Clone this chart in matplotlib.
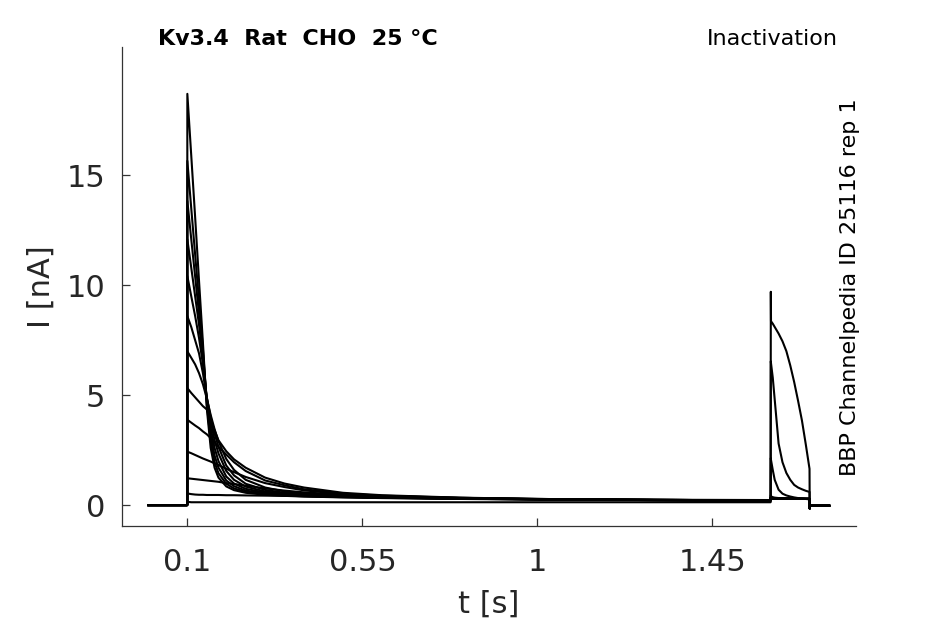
import matplotlib
matplotlib.use("Agg")
import matplotlib.pyplot as plt

# ---- data ----
t_base = [0.0, 0.0995]
base_current = [0.0, 0.0]

t_pre = [0.1, 0.11, 0.12, 0.13, 0.14, 0.15, 0.16, 0.17, 0.18, 0.2, 0.22, 0.25,
         0.3, 0.35, 0.4, 0.5, 0.6, 0.8, 1.0, 1.2, 1.4, 1.5995]
pre_currents = [
    [18.7, 15.9, 13.1, 10.2, 7.4, 4.4, 2.6, 1.7, 1.25, 0.85, 0.68, 0.56, 0.47, 0.42, 0.39, 0.35, 0.32, 0.28, 0.25, 0.23, 0.22, 0.21],
    [15.65, 13.5, 11.4, 9.3, 7.1, 4.6, 2.9, 1.95, 1.45, 0.97, 0.76, 0.6, 0.5, 0.44, 0.4, 0.36, 0.33, 0.29, 0.26, 0.24, 0.22, 0.21],
    [13.83, 12.1, 10.4, 8.7, 6.9, 4.7, 3.2, 2.25, 1.7, 1.12, 0.86, 0.66, 0.53, 0.46, 0.42, 0.37, 0.34, 0.29, 0.26, 0.24, 0.22, 0.21],
    [12.08, 10.8, 9.5, 8.2, 6.7, 4.8, 3.5, 2.6, 2.0, 1.3, 0.98, 0.74, 0.57, 0.49, 0.44, 0.38, 0.34, 0.3, 0.26, 0.24, 0.22, 0.21],
    [10.41, 9.5, 8.6, 7.6, 6.4, 4.9, 3.8, 2.95, 2.35, 1.55, 1.15, 0.84, 0.62, 0.52, 0.46, 0.39, 0.35, 0.3, 0.27, 0.24, 0.22, 0.21],
    [8.59, 8.1, 7.5, 6.9, 6.0, 4.9, 4.0, 3.25, 2.65, 1.8, 1.35, 0.97, 0.69, 0.56, 0.48, 0.4, 0.35, 0.3, 0.27, 0.24, 0.22, 0.21],
    [6.99, 6.7, 6.4, 6.0, 5.5, 4.85, 4.1, 3.45, 2.9, 2.1, 1.6, 1.15, 0.8, 0.62, 0.52, 0.42, 0.36, 0.31, 0.27, 0.24, 0.22, 0.21],
    [5.32, 5.1, 4.9, 4.7, 4.5, 4.35, 3.9, 3.4, 2.95, 2.45, 2.08, 1.7, 1.25, 0.98, 0.8, 0.56, 0.45, 0.34, 0.28, 0.25, 0.23, 0.22],
    [3.88, 3.75, 3.62, 3.5, 3.35, 3.22, 3.05, 2.85, 2.65, 2.3, 1.95, 1.55, 1.12, 0.9, 0.72, 0.52, 0.43, 0.33, 0.28, 0.25, 0.23, 0.22],
    [2.43, 2.36, 2.28, 2.2, 2.12, 2.05, 1.98, 1.9, 1.82, 1.65, 1.5, 1.28, 1.0, 0.82, 0.67, 0.5, 0.41, 0.32, 0.27, 0.25, 0.23, 0.22],
    [1.22, 1.2, 1.18, 1.16, 1.14, 1.12, 1.1, 1.08, 1.06, 1.0, 0.96, 0.88, 0.76, 0.66, 0.58, 0.47, 0.41, 0.33, 0.28, 0.25, 0.23, 0.22],
    [0.53, 0.5, 0.48, 0.47, 0.47, 0.46, 0.46, 0.46, 0.46, 0.45, 0.45, 0.44, 0.43, 0.42, 0.41, 0.38, 0.35, 0.3, 0.27, 0.25, 0.24, 0.23],
    [0.15, 0.13, 0.13, 0.13, 0.13, 0.13, 0.13, 0.13, 0.13, 0.13, 0.13, 0.13, 0.13, 0.13, 0.13, 0.13, 0.13, 0.13, 0.13, 0.13, 0.13, 0.13],
]

t_test = [1.6, 1.6005, 1.605, 1.61, 1.62, 1.63, 1.64, 1.65, 1.66, 1.67, 1.68, 1.69, 1.6995]
test_currents = [
    [0.32, 0.3, 0.3, 0.3, 0.3, 0.29, 0.29, 0.29, 0.28, 0.28, 0.28, 0.28, 0.28],
    [0.32, 0.3, 0.3, 0.3, 0.3, 0.29, 0.29, 0.29, 0.28, 0.28, 0.28, 0.28, 0.28],
    [0.33, 0.31, 0.3, 0.3, 0.3, 0.29, 0.29, 0.29, 0.29, 0.28, 0.28, 0.28, 0.28],
    [0.33, 0.31, 0.3, 0.3, 0.3, 0.3, 0.29, 0.29, 0.29, 0.28, 0.28, 0.28, 0.28],
    [0.34, 0.31, 0.31, 0.3, 0.3, 0.3, 0.29, 0.29, 0.29, 0.29, 0.28, 0.28, 0.28],
    [0.34, 0.32, 0.31, 0.31, 0.3, 0.3, 0.3, 0.29, 0.29, 0.29, 0.29, 0.28, 0.28],
    [0.35, 0.32, 0.31, 0.31, 0.3, 0.3, 0.3, 0.3, 0.29, 0.29, 0.29, 0.29, 0.28],
    [0.36, 0.33, 0.32, 0.31, 0.31, 0.3, 0.3, 0.3, 0.3, 0.29, 0.29, 0.29, 0.29],
    [0.38, 0.34, 0.33, 0.32, 0.31, 0.31, 0.3, 0.3, 0.3, 0.3, 0.29, 0.29, 0.29],
    [0.45, 0.4, 0.36, 0.34, 0.32, 0.31, 0.31, 0.3, 0.3, 0.3, 0.3, 0.29, 0.29],
    [2.14, 2.05, 1.6, 1.15, 0.7, 0.52, 0.44, 0.39, 0.35, 0.32, 0.3, 0.28, 0.26],
    [6.54, 6.45, 5.8, 4.8, 2.8, 1.95, 1.46, 1.15, 0.92, 0.8, 0.72, 0.65, 0.6],
    [9.7, 8.36, 8.25, 8.1, 7.8, 7.45, 7.0, 6.35, 5.6, 4.75, 3.85, 2.75, 1.65],
]

t_tail = [1.7, 1.7005, 1.75]
tail_current = [-0.15, -0.03, -0.03]

x_ticks = [0.1, 0.55, 1, 1.45]
x_tick_labels = ["0.1", "0.55", "1", "1.45"]
y_ticks = [0, 5, 10, 15]
y_tick_labels = ["0", "5", "10", "15"]

title_text = "Kv3.4  Rat  CHO  25 °C"
protocol_text = "Inactivation"
source_text = "BBP Channelpedia ID 25116 rep 1"

# ---- figure ----
W, H = 945, 624
fig = plt.figure(figsize=(W / 100, H / 100), dpi=100)
ax_l, ax_r, ax_t, ax_b = 122, 856, 47, 526
ax = fig.add_axes([ax_l / W, 1 - ax_b / H, (ax_r - ax_l) / W, (ax_b - ax_t) / H])

t_all = t_base + t_pre + t_test + t_tail
for pre, test in zip(pre_currents, test_currents):
    y_all = base_current + pre + test + tail_current
    ax.plot(t_all, y_all, color="black", lw=1.5, solid_joinstyle="round")

ax.set_xlim(-0.068, 1.819)
ax.set_ylim(-0.95, 20.83)

for s in ["top", "right"]:
    ax.spines[s].set_visible(False)
for s in ["left", "bottom"]:
    ax.spines[s].set_color("#333333")
    ax.spines[s].set_linewidth(0.9)

ax.set_xticks(x_ticks)
ax.set_xticklabels(x_tick_labels)
ax.set_yticks(y_ticks)
ax.set_yticklabels(y_tick_labels)
ax.tick_params(axis="both", direction="in", length=5.5, width=0.9,
               color="#333333", labelcolor="#262626", labelsize=22)
ax.tick_params(axis="x", pad=16)
ax.tick_params(axis="y", pad=12)

ax.set_xlabel("t [s]", fontsize=22, color="#262626")
ax.set_ylabel("I [nA]", fontsize=22, color="#262626")
ax.xaxis.label.set_verticalalignment("center")
ax.yaxis.label.set_verticalalignment("center")
ax.xaxis.set_label_coords(0.5, (ax_b - 604) / (ax_b - ax_t))
ax.yaxis.set_label_coords((41 - ax_l) / (ax_r - ax_l), 0.5)

fig.text(158 / W, 1 - 39 / H, title_text, fontsize=16, fontweight="bold",
         ha="left", va="center", color="black")
fig.text(838 / W, 1 - 39 / H, protocol_text, fontsize=16,
         ha="right", va="center", color="black")
fig.text(850 / W, 1 - 287 / H, source_text, fontsize=16, rotation=90,
         ha="center", va="center", color="black")

fig.savefig("out.png", dpi=100)
